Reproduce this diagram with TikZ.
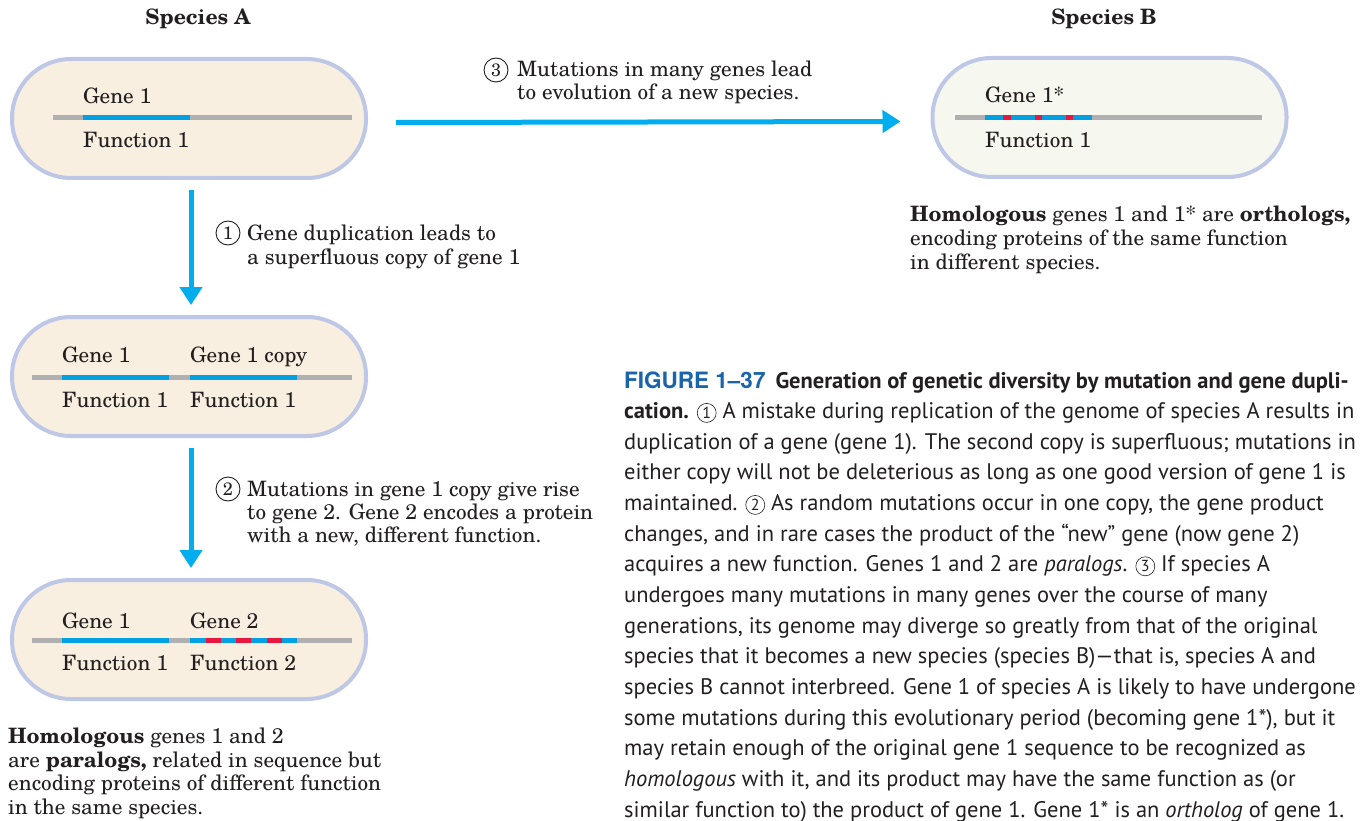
\documentclass[tikz,border=0pt]{standalone}
\usepackage{fontspec}
\usepackage{graphicx}
\setmainfont{TeX Gyre Schola}
\newfontfamily\capfont{PT Sans}
\newfontfamily\figfont{TeX Gyre Heros}
\usetikzlibrary{arrows.meta}
\definecolor{arrowblue}{RGB}{0,174,239}
\definecolor{geneblue}{RGB}{0,160,227}
\definecolor{genered}{RGB}{232,23,63}
\definecolor{genegray}{RGB}{176,176,176}
\definecolor{cellborder}{RGB}{190,199,230}
\definecolor{cellfillA}{RGB}{248,239,224}
\definecolor{cellfillB}{RGB}{246,248,240}
\definecolor{figblue}{RGB}{25,100,170}
\definecolor{txt}{RGB}{35,31,32}
\newcommand{\ccnum}[1]{\tikz[baseline=(cn.base)]\node[circle,draw=txt,line width=0.6pt,inner sep=0pt,minimum size=19pt,font=\capfont\fontsize{16}{16}\selectfont] (cn) {#1};}
\begin{document}
\begin{tikzpicture}[x=1pt,y=-1pt,
  cell/.style={draw=cellborder, line width=4pt, rounded corners=59pt, minimum width=354pt, minimum height=119pt, inner sep=0pt},
  lbl/.style={anchor=base west, inner sep=0pt, font=\fontsize{21.2}{25}\selectfont, text=txt},
  ttl/.style={anchor=base, inner sep=0pt, font=\fontsize{21.2}{25}\selectfont\bfseries, text=txt},
  captxt/.style={anchor=base west, inner sep=0pt, font=\capfont\fontsize{22.5}{27}\selectfont, text=txt},
  gline/.style={line width=5pt, draw=genegray},
  bseg/.style={line width=5pt, draw=geneblue},
  rseg/.style={line width=5pt, draw=genered},
  arr/.style={draw=arrowblue, line width=5pt, -{Triangle[width=22pt,length=18pt]}},
  num/.style={circle, draw=txt, line width=0.9pt, inner sep=0pt, minimum size=24pt, font=\fontsize{18}{18}\selectfont, text=txt}]
\useasboundingbox[fill=white] (0,0) rectangle (1364,821);

% titles
\node[ttl] (tA) at (198,25) {Species A};
\node[ttl] (tB) at (1104,25) {Species B};

% cells
\node[cell, fill=cellfillA] (boxA) at (189,118.5) {};
\node[cell, fill=cellfillA] (boxA2) at (189,376.5) {};
\node[cell, fill=cellfillA] (boxA3) at (189,639.5) {};
\node[cell, fill=cellfillB] (boxB) at (1109.5,117.5) {};

% genes, cell A1
\draw[gline] (53,118) -- (352,118);
\draw[bseg] (83,118) -- (190,118);
\node[lbl] (a1g) at (83,104) {Gene 1};
\node[lbl] (a1f) at (83,148) {Function 1};

% cell A2
\draw[gline] (32,377) -- (352,377);
\draw[bseg] (62,377) -- (169,377);
\draw[bseg] (190,377) -- (297,377);
\node[lbl] (a2g1) at (62,362) {Gene 1};
\node[lbl] (a2g2) at (190,362) {Gene 1 copy};
\node[lbl] (a2f1) at (62,407) {Function 1};
\node[lbl] (a2f2) at (190,407) {Function 1};

% cell A3
\draw[gline] (32,640) -- (352,640);
\draw[bseg] (62,640) -- (169,640);
\draw[bseg] (190,640) -- (297,640);
\draw[rseg] (206,640) -- (221,640);
\draw[rseg] (236,640) -- (251,640);
\draw[rseg] (267,640) -- (282,640);
\node[lbl] (a3g1) at (62,628) {Gene 1};
\node[lbl] (a3g2) at (190,628) {Gene 2};
\node[lbl] (a3f1) at (62,670) {Function 1};
\node[lbl] (a3f2) at (190,670) {Function 2};

% cell B
\draw[gline] (955,118) -- (1262,118);
\draw[bseg] (985,118) -- (1092,118);
\draw[rseg] (1003,118) -- (1011,118);
\draw[rseg] (1035,118) -- (1042,118);
\draw[rseg] (1066,118) -- (1073,118);
\node[lbl] (bg) at (985,103) {Gene 1*};
\node[lbl] (bf) at (985,148) {Function 1};

% arrows
\draw[arr] ([xshift=2pt,yshift=-10pt]boxA.south) -- ([xshift=2pt,yshift=10pt]boxA2.north);
\draw[arr] ([xshift=2pt,yshift=-10pt]boxA2.south) -- ([xshift=2pt,yshift=10pt]boxA3.north);
\draw[arr] ([xshift=28pt,yshift=-4pt]boxA.east) -- ([xshift=-30pt,yshift=-4pt]boxB.west);

% step labels
\node[num] (c1) at (228,233) {1};
\node[lbl] (s1a) at (247,240) {Gene duplication leads to};
\node[lbl] (s1b) at (247,264) {a superfluous copy of gene 1};

\node[num] (c2) at (228,489) {2};
\node[lbl] (s2a) at (247,496) {Mutations in gene 1 copy give rise};
\node[lbl] (s2b) at (247,519) {to gene 2. Gene 2 encodes a protein};
\node[lbl] (s2c) at (247,542) {with a new, different function.};

\node[num] (c3) at (496,70) {3};
\node[lbl] (s3a) at (517,77) {Mutations in many genes lead};
\node[lbl] (s3b) at (517,100) {to evolution of a new species.};

% species B note
\node[lbl] (nb1) at (910,221) {\textbf{Homologous} genes 1 and 1* are \textbf{orthologs,}};
\node[lbl] (nb2) at (910,245) {encoding proteins of the same function};
\node[lbl] (nb3) at (910,269) {in different species.};

% species A note
\node[lbl] (na1) at (8,743) {\textbf{Homologous} genes 1 and 2};
\node[lbl] (na2) at (8,767) {are \textbf{paralogs,} related in sequence but};
\node[lbl] (na3) at (8,790) {encoding proteins of different function};
\node[lbl] (na4) at (8,814) {in the same species.};

% figure caption
\node[captxt] (f1) at (624,388) {{\figfont\bfseries\color{figblue}FIGURE 1–37}\hspace{10pt}\textbf{Generation of genetic diversity by mutation and gene dupli-}};
\node[captxt] (f2) at (624,418.6) {\textbf{cation.} \ccnum{1} A mistake during replication of the genome of species A results in};
\node[captxt] (f3) at (624,449.3) {duplication of a gene (gene 1). The second copy is superfluous; mutations in};
\node[captxt] (f4) at (624,479.9) {either copy will not be deleterious as long as one good version of gene 1 is};
\node[captxt] (f5) at (624,510.6) {maintained. \ccnum{2} As random mutations occur in one copy, the gene product};
\node[captxt] (f6) at (624,541.2) {changes, and in rare cases the product of the “new” gene (now gene 2)};
\node[captxt] (f7) at (624,571.8) {acquires a new function. Genes 1 and 2 are \textit{paralogs}. \ccnum{3} If species A};
\node[captxt] (f8) at (624,602.5) {undergoes many mutations in many genes over the course of many};
\node[captxt] (f9) at (624,633.1) {generations, its genome may diverge so greatly from that of the original};
\node[captxt] (f10) at (624,663.8) {species that it becomes a new species (species B)—that is, species A and};
\node[captxt] (f11) at (624,694.4) {species B cannot interbreed. Gene 1 of species A is likely to have undergone};
\node[captxt] (f12) at (624,725) {some mutations during this evolutionary period (becoming gene 1*), but it};
\node[captxt] (f13) at (624,755.7) {may retain enough of the original gene 1 sequence to be recognized as};
\node[captxt] (f14) at (624,786.3) {\textit{homologous} with it, and its product may have the same function as (or};
\node[captxt] (f15) at (624,817) {similar function to) the product of gene 1. Gene 1* is an \textit{ortholog} of gene 1.};
\end{tikzpicture}
\end{document}
